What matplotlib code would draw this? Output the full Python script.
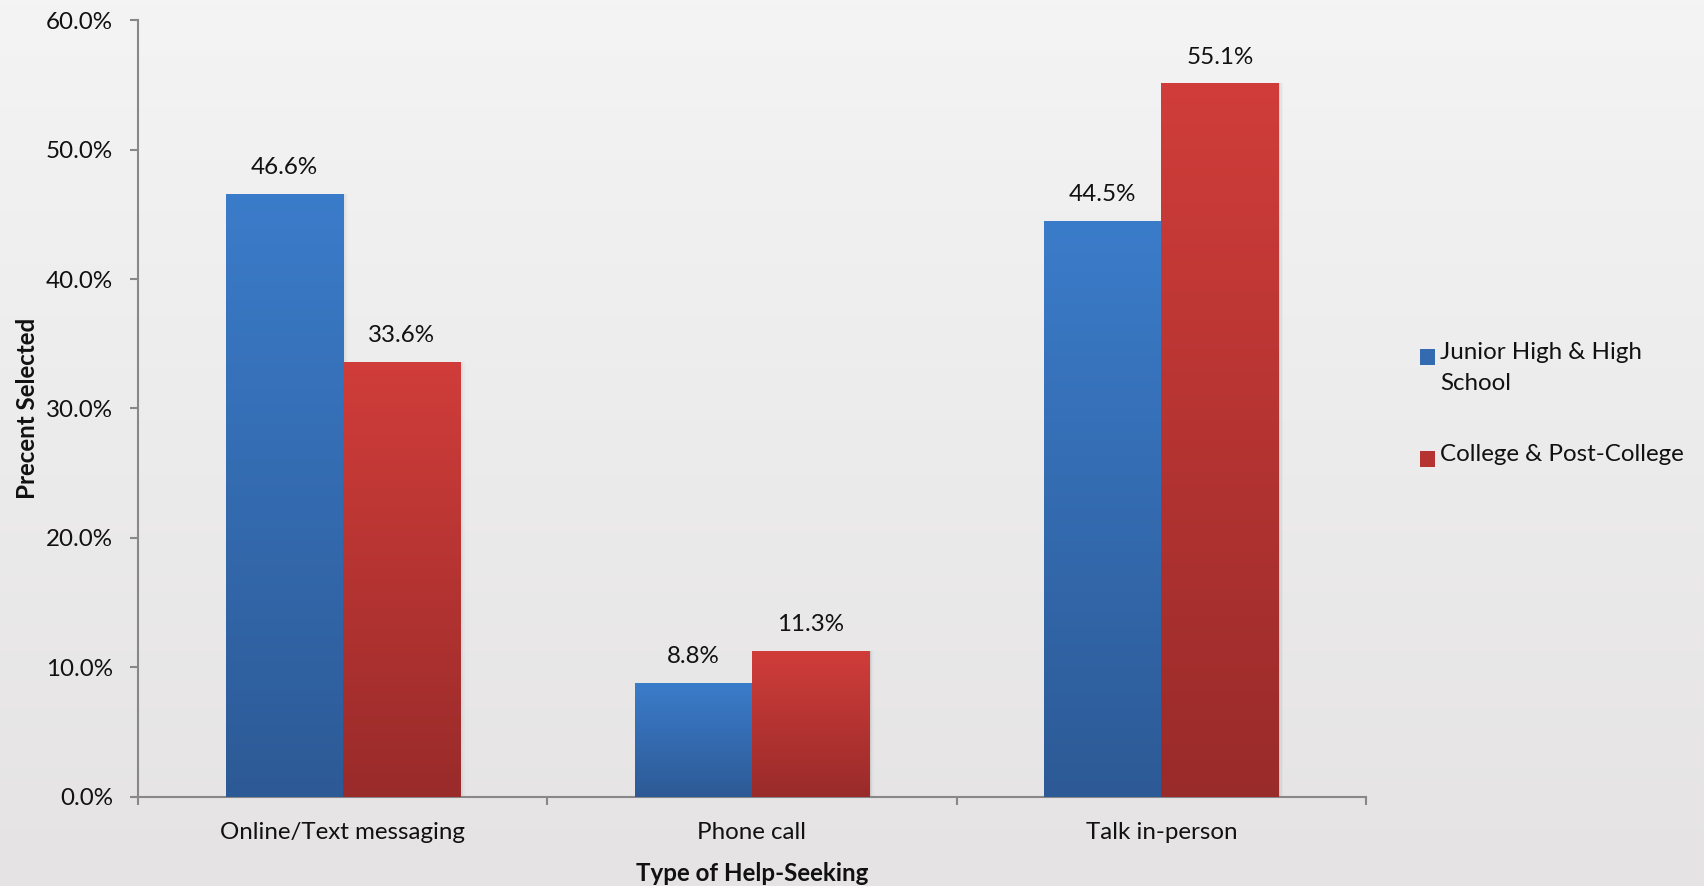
import numpy as np
import matplotlib
matplotlib.use("Agg")
import matplotlib.pyplot as plt
from matplotlib.patches import Rectangle
from matplotlib.colors import LinearSegmentedColormap

categories = ["Online/Text messaging", "Phone call", "Talk in-person"]
series_names = ["Junior High & High\nSchool", "College & Post-College"]
junior_high = [46.6, 8.8, 44.5]
college = [33.6, 11.3, 55.1]
y_ticks = [0, 10, 20, 30, 40, 50, 60]

# (top, bottom) colours of the vertical gradient fill on each series
series_grad = [((0.231, 0.486, 0.792), (0.176, 0.353, 0.588)),
               ((0.816, 0.239, 0.227), (0.600, 0.169, 0.165))]

plt.rcParams["font.family"] = ["Lato", "DejaVu Sans"]
FS = 17.4

fig = plt.figure(figsize=(17.04, 8.86), dpi=100)

# light grey background gradient across the whole figure
bg = fig.add_axes([0, 0, 1, 1], zorder=-10)
grad = np.linspace(0, 1, 256).reshape(-1, 1)
bg_cmap = LinearSegmentedColormap.from_list("bg", ["#f4f4f4", "#e5e3e4"])
bg.imshow(grad, aspect="auto", cmap=bg_cmap, extent=[0, 1, 0, 1], origin="upper")
bg.set_axis_off()

ax = fig.add_axes([0.081, 0.1005, 0.7206, 0.8769])
ax.set_facecolor("none")

x = np.arange(len(categories))
width = 0.286
for i, (vals, (c_top, c_bot)) in enumerate(zip([junior_high, college], series_grad)):
    offs = (i - 0.5) * width
    bars = ax.bar(x + offs, vals, width, facecolor="none", edgecolor="none", zorder=3)
    cmap = LinearSegmentedColormap.from_list(f"s{i}", [c_top, c_bot])
    for b, v in zip(bars, vals):
        x0 = b.get_x()
        # soft shadow to the right of the bar
        for k, a in enumerate([0.06, 0.04, 0.02]):
            ax.add_patch(Rectangle((x0 + 0.004 * (k + 1), 0), width, v,
                                   facecolor="black", alpha=a, edgecolor="none", zorder=2))
        im = ax.imshow(grad, aspect="auto", cmap=cmap, origin="upper",
                       extent=[x0, x0 + width, 0, v], zorder=3)
        im.set_clip_path(b)
        ax.annotate(f"{v:.1f}%", (b.get_x() + width / 2, v), xytext=(0, 11.5),
                    textcoords="offset points", ha="center", va="bottom",
                    fontsize=FS, color="#111111")

ax.set_xlim(-0.5, 2.5)
ax.set_ylim(0, 60)

for side in ("top", "right"):
    ax.spines[side].set_visible(False)
for side in ("left", "bottom"):
    ax.spines[side].set_color("#888888")
    ax.spines[side].set_linewidth(1.5)

ax.set_yticks(y_ticks)
ax.set_yticklabels([f"{t:.1f}%" for t in y_ticks])
ax.tick_params(axis="y", length=6, width=1.5, color="#888888", pad=12,
               labelsize=FS, labelcolor="#111111")

ax.set_xticks([-0.5, 0.5, 1.5, 2.5])
ax.set_xticklabels([])
ax.set_xticks(x, minor=True)
ax.set_xticklabels(categories, minor=True)
ax.tick_params(axis="x", which="major", length=6, width=1.5, color="#888888")
ax.tick_params(axis="x", which="minor", length=0, pad=18, labelsize=FS,
               labelcolor="#111111")

ax.set_xlabel("Type of Help-Seeking", fontsize=FS, fontweight="bold", color="#111111")
ax.xaxis.set_label_coords(0.5, -0.098)
ax.xaxis.label.set_va("center")
ax.set_ylabel("Precent Selected", fontsize=FS, fontweight="bold", color="#111111")
ax.yaxis.set_label_coords(-0.090, 0.5)
ax.yaxis.label.set_va("center")

# legend drawn at fixed figure positions, marker aligned with the first text line
leg_y = [1 - 357 / 886, 1 - 459 / 886]
for name, (c_top, c_bot), yy in zip(series_names, series_grad, leg_y):
    mid = tuple((a + b) / 2 for a, b in zip(c_top, c_bot))
    fig.patches.append(Rectangle((1420 / 1704, yy - 8 / 886), 15 / 1704, 16 / 886,
                                 facecolor=mid, edgecolor="none",
                                 transform=fig.transFigure, figure=fig))
    fig.text(1440 / 1704, yy + 15 / 886, name, fontsize=FS, color="#111111",
             ha="left", va="top", linespacing=1.6)

fig.savefig("out.png", dpi=100)
